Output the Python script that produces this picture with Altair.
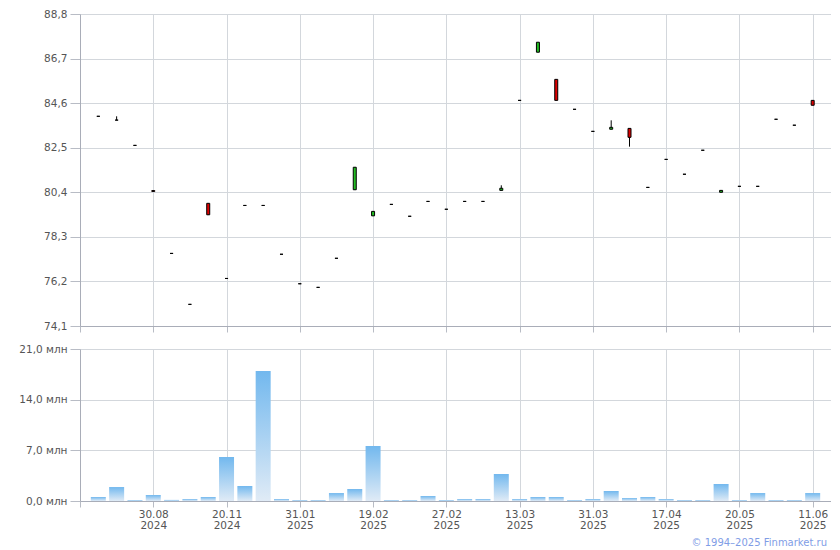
import altair as alt
import pandas as pd

# ---- data ----
opens  = [83.98, 83.80, 82.61, 80.48, 77.52, 75.12, 79.88, 76.34, 79.78, 79.78,
          77.48, 76.09, 75.92, 77.29, 80.52, 79.29, 79.83, 79.27, 79.97, 79.60,
          79.97, 79.97, 80.49, 84.73, 87.00, 85.72, 84.31, 83.27, 83.37, 83.41,
          80.63, 81.95, 81.25, 82.38, 80.40, 80.68, 80.68, 83.84, 83.56, 84.73]
closes = [83.98, 83.80, 82.61, 80.44, 77.52, 75.12, 79.34, 76.34, 79.78, 79.78,
          77.48, 76.09, 75.92, 77.29, 81.58, 79.50, 79.83, 79.27, 79.97, 79.60,
          79.97, 79.97, 80.59, 84.73, 87.47, 84.73, 84.31, 83.27, 83.46, 82.99,
          80.63, 81.95, 81.25, 82.38, 80.49, 80.68, 80.68, 83.84, 83.56, 84.50]
highs  = [83.98, 83.98, 82.61, 80.48, 77.52, 75.12, 79.88, 76.34, 79.78, 79.78,
          77.48, 76.09, 75.92, 77.29, 81.58, 79.50, 79.83, 79.27, 79.97, 79.60,
          79.97, 79.97, 80.73, 84.73, 87.47, 85.72, 84.31, 83.27, 83.79, 83.41,
          80.63, 81.95, 81.25, 82.38, 80.49, 80.68, 80.68, 83.84, 83.56, 84.73]
lows   = [83.98, 83.80, 82.61, 80.44, 77.52, 75.12, 79.34, 76.34, 79.78, 79.78,
          77.48, 76.09, 75.92, 77.29, 80.52, 79.29, 79.83, 79.27, 79.97, 79.60,
          79.97, 79.97, 80.49, 84.73, 87.00, 84.73, 84.31, 83.27, 83.37, 82.55,
          80.63, 81.95, 81.25, 82.38, 80.40, 80.68, 80.68, 83.84, 83.56, 84.50]
volumes = [0.55, 1.93, 0.14, 0.83, 0.15, 0.28, 0.55, 6.08, 2.07, 17.96,
           0.28, 0.14, 0.14, 1.10, 1.66, 7.60, 0.14, 0.14, 0.69, 0.14,
           0.28, 0.28, 3.73, 0.28, 0.55, 0.55, 0.14, 0.28, 1.38, 0.41,
           0.55, 0.28, 0.14, 0.14, 2.35, 0.14, 1.10, 0.14, 0.14, 1.10]

tick_idx   = [3, 7, 11, 15, 19, 23, 27, 31, 35, 39]
tick_dates = ["30.08", "20.11", "31.01", "19.02", "27.02", "13.03", "31.03", "17.04", "20.05", "11.06"]
tick_years = ["2024", "2024", "2025", "2025", "2025", "2025", "2025", "2025", "2025", "2025"]

price_ticks = [74.1, 76.2, 78.3, 80.4, 82.5, 84.6, 86.7, 88.8]
vol_ticks = [0, 7, 14, 21]

df = pd.DataFrame({
    "i": list(range(len(opens))),
    "open": opens, "close": closes, "high": highs, "low": lows, "vol": volumes,
})
df["dir"] = ["up" if c >= o else "down" for o, c in zip(opens, closes)]

FONT = "DejaVu Sans"
TXT = "#555555"
GRID = "#d3d7dc"
DOMAIN = "#a9adb8"

label_expr = "''"
for i, d, y in reversed(list(zip(tick_idx, tick_dates, tick_years))):
    label_expr = f"datum.value == {i} ? ['{d}', '{y}'] : " + label_expr

x_scale = alt.Scale(domain=[-1, 40], nice=False, zero=False, padding=0)

x_top = alt.X("i:Q", scale=x_scale, axis=alt.Axis(
    values=[-1] + tick_idx, labels=False, title=None, tickSize=6, grid=True))
x_bot = alt.X("i:Q", scale=x_scale, axis=alt.Axis(
    values=[-1] + tick_idx, labelExpr=label_expr, title=None, tickSize=6,
    grid=True, labelLineHeight=11, labelPadding=2))

y_price_axis = alt.Axis(values=price_ticks, title=None, tickSize=10, labelPadding=3,
                        labelExpr="replace(format(datum.value, '.1f'), '.', ',')")
y_price_scale = alt.Scale(domain=[price_ticks[0], price_ticks[-1]], nice=False, zero=False)

wicks = alt.Chart(df).mark_rule(color="black", strokeWidth=1).encode(
    x=x_top,
    y=alt.Y("low:Q", scale=y_price_scale, axis=y_price_axis),
    y2="high:Q",
)
bodies = alt.Chart(df).mark_bar(size=3, stroke="black", strokeWidth=1).encode(
    x=x_top,
    y=alt.Y("open:Q", scale=y_price_scale, axis=y_price_axis),
    y2="close:Q",
    color=alt.Color("dir:N", scale=alt.Scale(domain=["up", "down"], range=["#22bb22", "#dd0000"]),
                    legend=None),
)
top = alt.layer(wicks, bodies).properties(width=751, height=312)

grad = alt.Gradient(
    gradient="linear",
    stops=[alt.GradientStop(color="#72b8ee", offset=0),
           alt.GradientStop(color="#e0ebf6", offset=1)],
    x1=0, x2=0, y1=0, y2=1,
)
bottom = alt.Chart(df).mark_bar(size=15, color=grad).encode(
    x=x_bot,
    y=alt.Y("vol:Q", scale=alt.Scale(domain=[0, 21], nice=False),
            axis=alt.Axis(values=vol_ticks, title=None, tickSize=10, labelPadding=3,
                          labelExpr="replace(format(datum.value, '.1f'), '.', ',') + ' млн'")),
).properties(width=751, height=152)

chart = alt.vconcat(top, bottom, spacing=11).properties(
    padding={"left": 10, "top": 1, "right": 0, "bottom": 0},
    title=alt.TitleParams("© 1994–2025 Finmarket.ru", orient="bottom", anchor="end",
                          fontSize=10, font=FONT, fontWeight="normal", color="#7f9de6",
                          offset=7, dx=-4),
).configure_view(stroke=None).configure_axis(
    labelFont=FONT, labelFontSize=10.5, labelColor=TXT,
    gridColor=GRID, domainColor=DOMAIN, tickColor="#b8bcc5",
)

chart.save("out.html", embed_options={"renderer": "svg", "actions": False})
